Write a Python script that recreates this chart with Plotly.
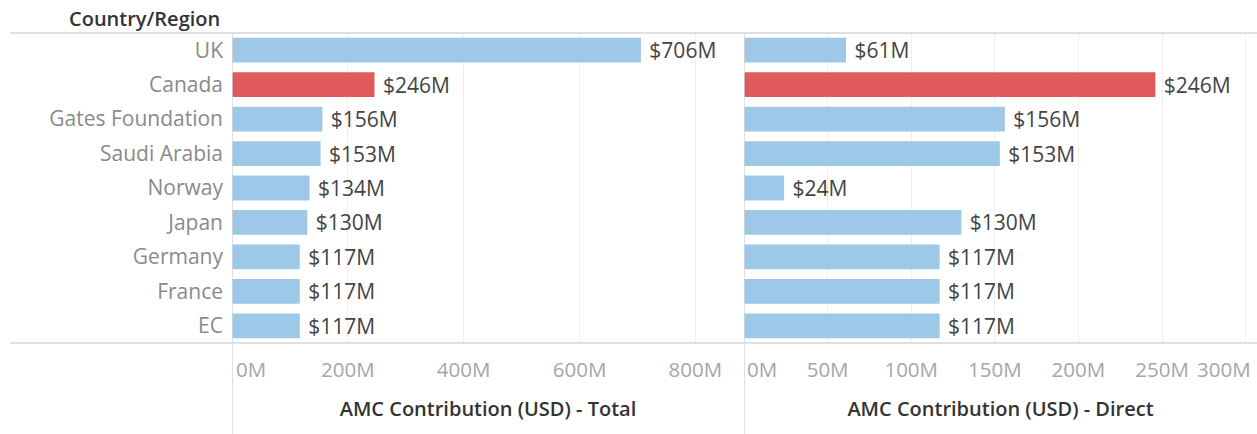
import plotly.graph_objects as go

categories = ["UK", "Canada", "Gates Foundation", "Saudi Arabia", "Norway",
              "Japan", "Germany", "France", "EC"]
total_musd = [706, 246, 156, 153, 134, 130, 117, 117, 117]
direct_musd = [61, 246, 156, 153, 24, 130, 117, 117, 117]
highlight = "Canada"

total_ticks = [200, 400, 600, 800]
total_ticktext = ["200M", "400M", "600M", "800M"]
direct_ticks = [50, 100, 150, 200, 250]
direct_ticktext = ["50M", "100M", "150M", "200M", "250M"]
first_tick, first_ticktext = 0, "0M"
direct_last_tick, direct_last_ticktext = 300, "300M"

BLUE = "#9ec8e8"
RED = "#e05a5c"
colors = [RED if c == highlight else BLUE for c in categories]
FONT = "Open Sans"

W, H = 1257, 434
ML, MR, MT, MB = 232, 0, 33, 91
pw = W - ML - MR
split = (744 - ML) / pw

fig = go.Figure()
for xa, ya, vals in (("x", "y", total_musd), ("x2", "y2", direct_musd)):
    fig.add_trace(go.Bar(
        y=categories, x=vals, orientation="h", xaxis=xa, yaxis=ya,
        marker=dict(color=colors, line=dict(width=0)),
        text=[f"\u00a0${v}M" for v in vals], texttemplate="%{text}",
        textposition="outside", cliponaxis=False, constraintext="none",
        textfont=dict(family=FONT, size=21, color="#444444"),
        hoverinfo="skip", showlegend=False,
    ))
# empty helper traces so the edge-label axes get drawn
for xa, ya in (("x3", "y"), ("x4", "y2"), ("x5", "y2")):
    fig.add_trace(go.Scatter(x=[], y=[], xaxis=xa, yaxis=ya, mode="markers",
                             showlegend=False, hoverinfo="skip"))

TICKFONT = dict(family=FONT, size=20.5, color="#a6a6a6")
axis_common = dict(
    showgrid=True, gridcolor="#efefef", gridwidth=1, zeroline=False,
    showline=False, ticks="", ticklabelstandoff=12, automargin=False,
    tickfont=TICKFONT,
    title_font=dict(family=FONT, size=20, color="#333333", weight=600),
    title_standoff=20,
)
edge_common = dict(
    showgrid=False, zeroline=False, showline=False, ticks="",
    ticklabelstandoff=12, automargin=False, tickfont=TICKFONT,
)
fig.update_layout(
    width=W, height=H,
    margin=dict(l=ML, r=MR, t=MT, b=MB, autoexpand=False),
    paper_bgcolor="white", plot_bgcolor="white",
    bargap=0.28,
    xaxis=dict(domain=[0, split], range=[0, 884], tickvals=total_ticks,
               ticktext=total_ticktext,
               title_text="AMC Contribution (USD) - Total", **axis_common),
    xaxis2=dict(domain=[split, 1], range=[0, 306.8], tickvals=direct_ticks,
                ticktext=direct_ticktext, anchor="y2",
                title_text="AMC Contribution (USD) - Direct", **axis_common),
    xaxis3=dict(overlaying="x", matches="x", anchor="y", tickvals=[first_tick],
                ticktext=[first_ticktext], ticklabelposition="outside right",
                ticklabelshift=4, **edge_common),
    xaxis4=dict(overlaying="x2", matches="x2", anchor="y2",
                tickvals=[first_tick], ticktext=[first_ticktext],
                ticklabelposition="outside right", ticklabelshift=3,
                **edge_common),
    xaxis5=dict(overlaying="x2", matches="x2", anchor="y2",
                tickvals=[direct_last_tick], ticktext=[direct_last_ticktext],
                ticklabelposition="outside left", ticklabelshift=5,
                **edge_common),
    yaxis=dict(categoryorder="array", categoryarray=categories,
               autorange="reversed", showgrid=False, zeroline=False,
               ticks="", ticklabelstandoff=8, automargin=False,
               tickfont=dict(family=FONT, size=21, color="#8a8a8a")),
    yaxis2=dict(categoryorder="array", categoryarray=categories,
                autorange="reversed", showgrid=False, zeroline=False,
                showticklabels=False, anchor="x2", matches="y",
                automargin=False),
)
# gridline for the 300M edge tick
fig.add_shape(type="line", xref="x2", yref="paper", x0=direct_last_tick,
              x1=direct_last_tick, y0=0, y1=1,
              line=dict(color="#efefef", width=1), layer="below")

line_col = "#d6d6d6"
bottom_paper = -MB / (H - MT - MB)
left_paper = (10 - ML) / pw
for shp in [
    dict(type="line", xref="paper", yref="paper", x0=left_paper, x1=1,
         y0=1, y1=1, line=dict(color=line_col, width=1.5)),
    dict(type="line", xref="paper", yref="paper", x0=left_paper, x1=1,
         y0=0, y1=0, line=dict(color=line_col, width=1.5)),
    dict(type="line", xref="x", yref="paper", x0=0, x1=0,
         y0=bottom_paper, y1=1, line=dict(color=line_col, width=1.5)),
    dict(type="line", xref="x2", yref="paper", x0=0, x1=0,
         y0=bottom_paper, y1=1, line=dict(color=line_col, width=1.5)),
]:
    fig.add_shape(**shp)

fig.add_annotation(
    text="Country/Region", xref="paper", yref="paper",
    x=(222 - ML) / pw, y=1 + 15 / (H - MT - MB),
    xanchor="right", yanchor="middle", showarrow=False,
    font=dict(family=FONT, size=20, color="#333333", weight=600),
)

fig.write_html("out.html")
